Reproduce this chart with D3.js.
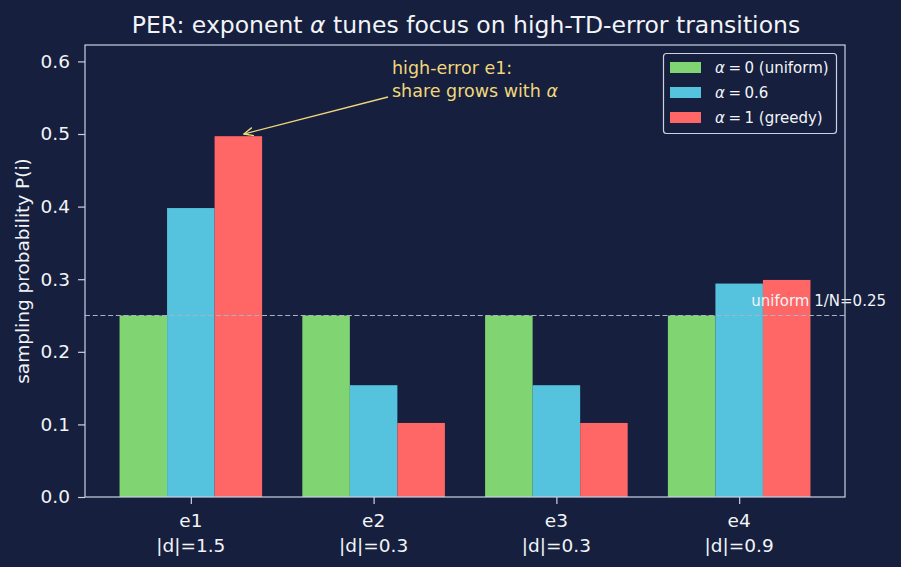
<!DOCTYPE html>
<html><head><meta charset="utf-8">
<script src="https://cdn.jsdelivr.net/npm/d3@7"></script>
<style>body{margin:0;background:#161f3d;} svg{display:block;} svg text{font-family:'DejaVu Sans';}</style>
</head><body>
<svg id="c" width="901" height="567"></svg>
<script>
const categories = ["e1","e2","e3","e4"];
const catSub = ["|d|=1.5","|d|=0.3","|d|=0.3","|d|=0.9"];
const seriesNames = ["α = 0 (uniform)","α = 0.6","α = 1 (greedy)"];
const alpha0 = [0.25, 0.25, 0.25, 0.25];
const alpha06 = [0.398, 0.154, 0.154, 0.294];
const alpha1 = [0.497, 0.102, 0.102, 0.299];
const yTicks = [0.0,0.1,0.2,0.3,0.4,0.5,0.6];
const uniformLevel = 0.25;
const annotTarget = [0.29, 0.5];
const colors = ["#80d572","#56c3de","#ff6666"];
const series = [alpha0, alpha06, alpha1];

const FF = "DejaVu Sans";
const svg = d3.select("#c");
const L=85,R=845,T=45,B=497;
const fg="#f2f4f8", spine="#c9d2e3";
const x = d3.scaleLinear().domain([-0.579,3.579]).range([L,R]);
const y = d3.scaleLinear().domain([0,0.6226]).range([B,T]);
const bw = 0.26;

series.forEach((s,si)=>{
  svg.append("g").selectAll("rect").data(s).join("rect")
    .attr("x",(d,i)=>x(i+(si-1)*bw-bw/2))
    .attr("width",(d,i)=>x(i+(si-1)*bw+bw/2)-x(i+(si-1)*bw-bw/2))
    .attr("y",d=>y(d)).attr("height",d=>y(0)-y(d))
    .attr("fill",colors[si]);
});

svg.append("line").attr("x1",L).attr("x2",R).attr("y1",y(uniformLevel)).attr("y2",y(uniformLevel))
  .attr("stroke","#aab2c8").attr("stroke-width",1.1).attr("stroke-dasharray","5,2.7");
svg.append("text").attr("x",886).attr("y",y(uniformLevel)-10).attr("text-anchor","end")
  .attr("fill",fg).attr("font-family",FF).attr("font-size",15).text("uniform 1/N=0.25");

svg.append("rect").attr("x",L).attr("y",T).attr("width",R-L).attr("height",B-T)
  .attr("fill","none").attr("stroke",spine).attr("stroke-width",1.2);

const ya = svg.append("g").attr("transform",`translate(${L},0)`)
  .call(d3.axisLeft(y).tickValues(yTicks).tickFormat(d3.format(".1f")).tickSize(7).tickPadding(8));
ya.attr("font-family",FF);
ya.select(".domain").remove();
ya.selectAll("line").attr("stroke",spine).attr("stroke-width",1.2);
ya.selectAll("text").attr("fill",fg).attr("font-size",18.5).attr("font-family",FF);

const xa = svg.append("g").attr("transform",`translate(0,${B})`)
  .call(d3.axisBottom(x).tickValues([0,1,2,3]).tickFormat("").tickSize(7));
xa.select(".domain").remove();
xa.selectAll("line").attr("stroke",spine).attr("stroke-width",1.2);
categories.forEach((c,i)=>{
  const t = svg.append("text").attr("x",x(i)).attr("text-anchor","middle").attr("fill",fg)
    .attr("font-family",FF).attr("font-size",18.5);
  t.append("tspan").attr("x",x(i)).attr("y",527).text(c);
  t.append("tspan").attr("x",x(i)).attr("y",552).text(catSub[i]);
});

svg.append("text").attr("transform",`translate(29,${(T+B)/2}) rotate(-90)`).attr("text-anchor","middle")
  .attr("fill",fg).attr("font-family",FF).attr("font-size",18.5).text("sampling probability P(i)");

const title = svg.append("text").attr("x",466).attr("y",33).attr("text-anchor","middle").attr("fill",fg)
  .attr("font-family",FF).attr("font-size",23.5);
title.append("tspan").text("PER: exponent ");
title.append("tspan").attr("font-style","italic").text("α");
title.append("tspan").text(" tunes focus on high-TD-error transitions");

const ann = "#f0d77c";
svg.append("defs").append("marker").attr("id","ah").attr("viewBox","0 0 10 10").attr("refX",9).attr("refY",5)
  .attr("markerWidth",8).attr("markerHeight",8).attr("orient","auto")
  .append("path").attr("d","M0,1 L9,5 L0,9").attr("fill","none").attr("stroke",ann).attr("stroke-width",1.3);
svg.append("line").attr("x1",388).attr("y1",97).attr("x2",x(annotTarget[0])).attr("y2",y(annotTarget[1]))
  .attr("stroke",ann).attr("stroke-width",1.3).attr("marker-end","url(#ah)");
const at = svg.append("text").attr("fill",ann).attr("font-family",FF).attr("font-size",17.5);
at.append("tspan").attr("x",392).attr("y",74).text("high-error e1:");
at.append("tspan").attr("x",392).attr("y",97).text("share grows with ");
at.append("tspan").attr("font-style","italic").text("α");

const lg = svg.append("g");
lg.append("rect").attr("x",663.5).attr("y",53.5).attr("width",173).attr("height",80).attr("rx",3)
  .attr("fill","#161f3d").attr("stroke",spine).attr("stroke-width",1.2);
seriesNames.forEach((n,i)=>{
  const yy = 67.5+i*25;
  lg.append("rect").attr("x",670).attr("y",yy-5.5).attr("width",31).attr("height",11).attr("fill",colors[i]);
  const tx = lg.append("text").attr("x",715).attr("y",yy+5).attr("fill",fg).attr("font-family",FF).attr("font-size",15);
  const parts = n.split(" = ");
  tx.append("tspan").attr("font-style","italic").text("α");
  tx.append("tspan").attr("dx",3.5).text("=");
  tx.append("tspan").attr("dx",3.5).text(parts[1]);
});
</script>
</body></html>
